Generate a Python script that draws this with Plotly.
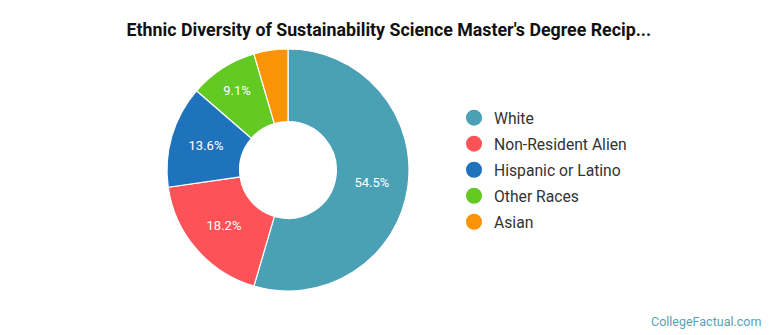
import plotly.graph_objects as go

categories = ["White", "Non-Resident Alien", "Hispanic or Latino", "Other Races", "Asian"]
counts = [12, 4, 3, 2, 1]
colors = ["#4aa0b5", "#fd5257", "#1f73bd", "#63c923", "#fb9306"]
label_templates = ["%{percent:.1%}", "%{percent:.1%}", "%{percent:.1%}", "%{percent:.1%}", ""]
title_text = "Ethnic Diversity of Sustainability Science Master's Degree Recip..."

W, H = 770, 335
cx, cy, r = 288, 170, 121

fig = go.Figure()
fig.add_trace(go.Pie(
    labels=categories, values=counts, sort=False, direction="clockwise", rotation=0,
    hole=0.4,
    marker=dict(colors=colors, line=dict(color="white", width=1.2)),
    texttemplate=label_templates, textposition="inside", insidetextorientation="horizontal",
    textfont=dict(family="Roboto", size=13, color="white"),
    hoverinfo="label+percent",
    showlegend=False,
    domain=dict(x=[(cx - r) / W, (cx + r) / W], y=[(H - cy - r) / H, (H - cy + r) / H]),
))

for i, (name, col) in enumerate(zip(categories, colors)):
    fig.add_trace(go.Scatter(
        x=[None], y=[None], mode="markers", name=name,
        marker=dict(color=col, size=17, symbol="circle"),
        legendgroup=f"g{i}", showlegend=True,
    ))

fig.update_layout(
    width=W, height=H,
    margin=dict(l=0, r=0, t=0, b=0),
    paper_bgcolor="white", plot_bgcolor="white",
    title=dict(text=f"<b>{title_text}</b>", x=0.505, xanchor="center", y=1 - 30 / H, yanchor="middle",
               font=dict(family="Roboto", size=17.8, color="#111111")),
    xaxis=dict(visible=False), yaxis=dict(visible=False),
    legend=dict(x=454 / W, xanchor="left", y=1 - 101 / H, yanchor="top",
                font=dict(family="Roboto", size=15.7, color="#333333"),
                traceorder="grouped", tracegroupgap=2.6, itemclick=False,
                bgcolor="rgba(0,0,0,0)"),
    annotations=[dict(text="CollegeFactual.com", x=1 - 7 / W, xanchor="right", y=1 - 321 / H, yanchor="middle",
                      xref="paper", yref="paper", showarrow=False,
                      font=dict(family="Roboto", size=12.5, color="#5b9fb4"))],
)

fig.write_html("out.html")
